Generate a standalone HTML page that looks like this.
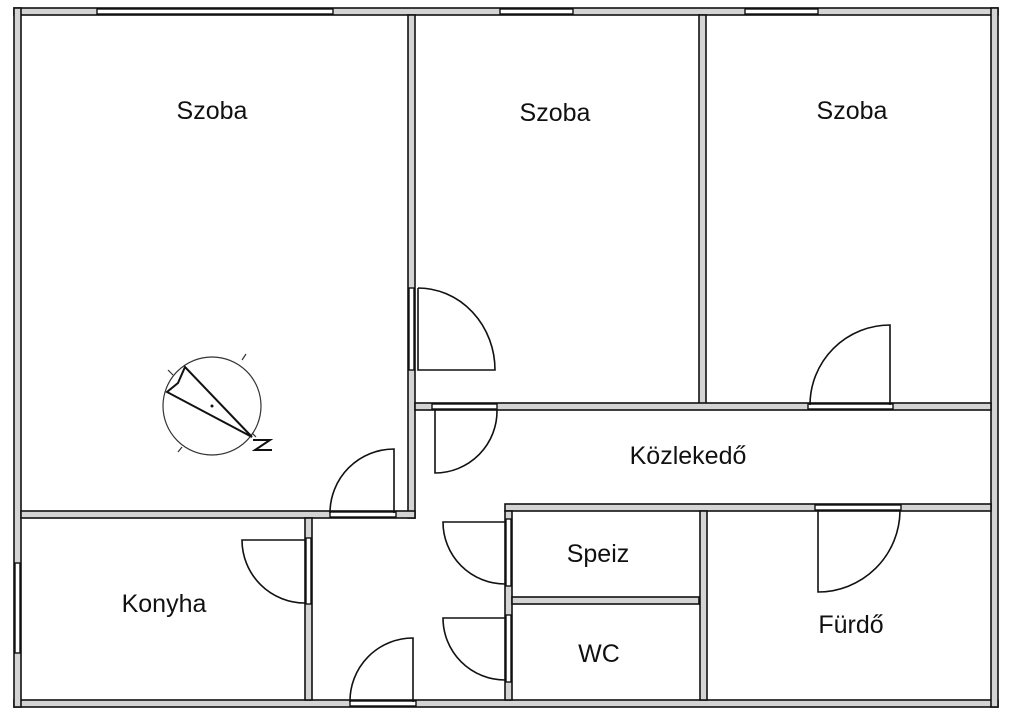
<!DOCTYPE html>
<html><head><meta charset="utf-8"><style>
html,body{margin:0;padding:0;background:#fff;width:1024px;height:723px;overflow:hidden}
svg{display:block}
text{font-family:"Liberation Sans",sans-serif;font-size:25px;fill:#111}
</style></head><body>
<svg width="1024" height="723" viewBox="0 0 1024 723">
<g fill="#d4d4d4" stroke="#111" stroke-width="1.6">
<rect x="14" y="8" width="984" height="7"/>
<rect x="14" y="700" width="984" height="7"/>
<rect x="14" y="8" width="7" height="699"/>
<rect x="991" y="8" width="7" height="699"/>
<rect x="408" y="15" width="7" height="503"/>
<rect x="699" y="15" width="7" height="393"/>
<rect x="415" y="403" width="576" height="7"/>
<rect x="21" y="511" width="394" height="7"/>
<rect x="305" y="518" width="7" height="182"/>
<rect x="505" y="504" width="486" height="7"/>
<rect x="505" y="511" width="7" height="189"/>
<rect x="512" y="597" width="187" height="7"/>
<rect x="700" y="511" width="7" height="189"/>
</g>
<g fill="#fff" stroke="#111" stroke-width="1.4">
<rect x="97" y="9" width="236" height="5"/>
<rect x="500" y="9" width="73" height="5"/>
<rect x="745" y="9" width="73" height="5"/>
<rect x="15" y="563" width="5" height="90"/>
<rect x="409" y="288" width="5" height="82"/>
<rect x="808" y="404" width="85" height="5"/>
<rect x="432" y="404" width="65" height="5"/>
<rect x="330" y="512" width="66" height="5"/>
<rect x="306" y="538" width="5" height="66"/>
<rect x="506" y="519" width="5" height="67"/>
<rect x="506" y="615" width="5" height="67"/>
<rect x="350" y="701" width="66" height="5"/>
<rect x="815" y="505" width="86" height="5"/>
</g>
<g fill="none" stroke="#111" stroke-width="1.6">
<path d="M418 288 V370 H495 A77 82 0 0 0 418 288"/>
<path d="M890 405 V325 A80 80 0 0 0 810 405"/>
<path d="M435 410 V473 A62 62 0 0 0 497 410"/>
<path d="M394 513 V449 A64 64 0 0 0 330 513"/>
<path d="M305 540 H242 A63 63 0 0 0 305 603"/>
<path d="M505 522 H443 A62 62 0 0 0 505 584"/>
<path d="M505 618 H443 A62 62 0 0 0 505 680"/>
<path d="M413 702 V638 A63 63 0 0 0 350 702"/>
<path d="M818 511 V592 A82 82 0 0 0 900 511"/>
</g>
<g fill="none" stroke="#333" stroke-width="1.2">
<circle cx="212" cy="406" r="49"/>
<path d="M168 370 l5 5 M246 354 l-4 6 M256 437 l-4-4 M178 452 l4-5"/>
</g>
<g fill="none" stroke="#111" stroke-width="2">
<path d="M185 367 L252 437 L167 392 L178 383 Z"/>
<path d="M253 440 L270 440 L255 450 L272 450"/>
</g>
<circle cx="212" cy="406" r="1.5" fill="#111"/>
<text x="212" y="119" text-anchor="middle">Szoba</text>
<text x="555" y="121" text-anchor="middle">Szoba</text>
<text x="852" y="119" text-anchor="middle">Szoba</text>
<text x="688" y="464" text-anchor="middle">Közlekedő</text>
<text x="598" y="562" text-anchor="middle">Speiz</text>
<text x="599" y="662" text-anchor="middle">WC</text>
<text x="164" y="612" text-anchor="middle">Konyha</text>
<text x="851" y="633" text-anchor="middle">Fürdő</text>
</svg>
</body></html>
